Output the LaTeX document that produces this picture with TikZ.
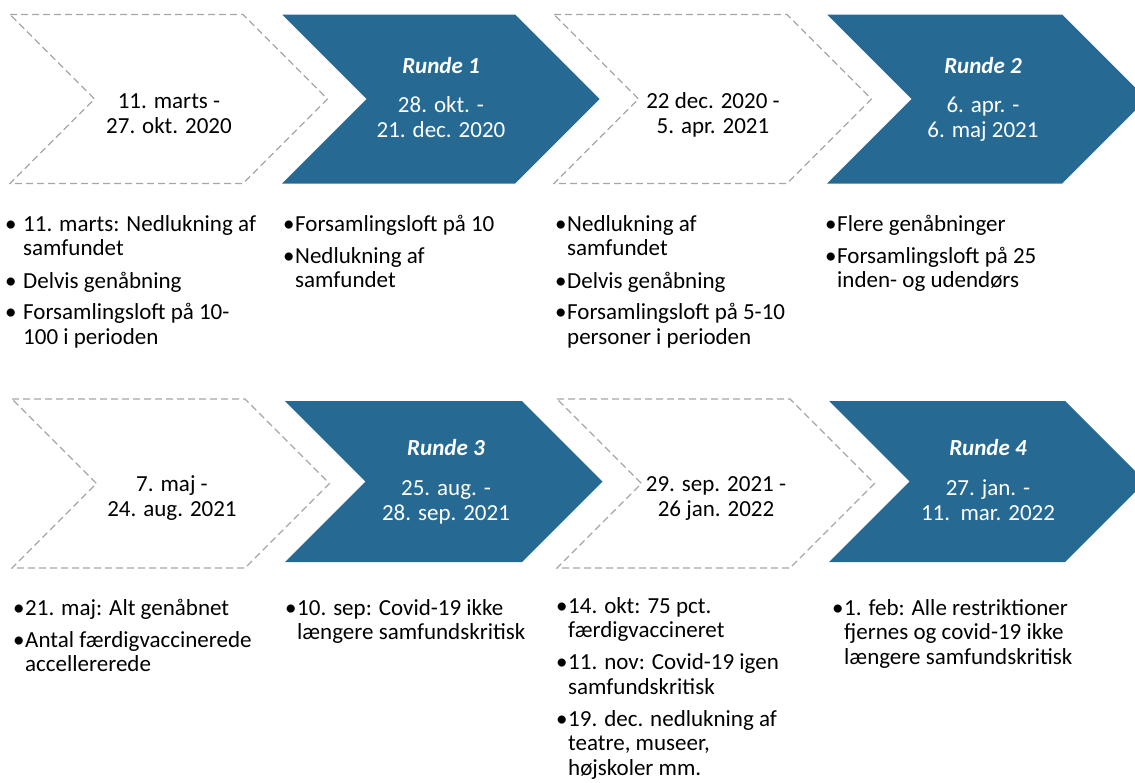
\documentclass[tikz,border=0pt]{standalone}
\usepackage{fontspec}
\setmainfont{Carlito}
\usepackage{tikz}

\definecolor{rundeblaa}{HTML}{266A94}
\definecolor{stregGraa}{HTML}{A6A6A6}

\begin{document}
\begin{tikzpicture}[x=1pt, y=-1pt,
    pause/.style={draw=stregGraa, line width=1.1pt, dash pattern=on 7pt off 4pt},
    runde/.style={fill=rundeblaa, draw=none},
    periode/.style={font=\fontsize{23}{25}\selectfont, align=center, inner sep=0pt, anchor=base},
    rundetekst/.style={periode, text=white},
    punkter/.style={font=\fontsize{23}{24.5}\selectfont, inner sep=0pt, anchor=base west}]

    \useasboundingbox (0,0) rectangle (1135,782);

    % Raekke 1: pilene
    \draw[pause] (10,14.5) -- (243,14.5) -- (327.5,99) -- (243,183.5) -- (10,183.5) -- (94.5,99) -- cycle;
    \fill[runde] (282,14.5) -- (515,14.5) -- (599.5,99) -- (515,183.5) -- (282,183.5) -- (366.5,99) -- cycle;
    \draw[pause] (554,14.5) -- (787,14.5) -- (871.5,99) -- (787,183.5) -- (554,183.5) -- (638.5,99) -- cycle;
    \fill[runde] (827,14.5) -- (1062,14.5) -- (1146.5,99) -- (1062,183.5) -- (827,183.5) -- (911.5,99) -- cycle;

    % Raekke 2: pilene
    \draw[pause] (12,399) -- (245,399) -- (329.5,483.5) -- (245,568) -- (12,568) -- (96.5,483.5) -- cycle;
    \fill[runde] (285,401) -- (522,401) -- (602.5,481.5) -- (522,562) -- (285,562) -- (365.5,481.5) -- cycle;
    \draw[pause] (557,399) -- (790,399) -- (874.5,483.5) -- (790,568) -- (557,568) -- (641.5,483.5) -- cycle;
    \fill[runde] (829,401) -- (1065,401) -- (1145.5,481.5) -- (1065,562) -- (829,562) -- (909.5,481.5) -- cycle;

    % Perioder uden runde
    \node (periode1) [periode] at (169,133.5) {11. marts -\\27. okt. 2020};
    \node (periode2) [periode] at (713,133.5) {22 dec. 2020 -\\5. apr. 2021};
    \node (periode3) [periode] at (172,516.5) {7. maj -\\24. aug. 2021};
    \node (periode4) [periode] at (716,516.5) {29. sep. 2021 -\\26 jan. 2022};

    % Runderne
    \node (runde1) [rundetekst] at (441,73.5) {\textbf{\textit{Runde 1}}};
    \node (dato1) [rundetekst] at (441,137) {28. okt. -\\21. dec. 2020};
    \node (runde2) [rundetekst] at (983,73.5) {\textbf{\textit{Runde 2}}};
    \node (dato2) [rundetekst] at (983,137) {6. apr. -\\6. maj 2021};
    \node (runde3) [rundetekst] at (446,455.5) {\textbf{\textit{Runde 3}}};
    \node (dato3) [rundetekst] at (446,520.5) {25. aug. -\\28. sep. 2021};
    \node (runde4) [rundetekst] at (988,455.5) {\textbf{\textit{Runde 4}}};
    \node (dato4) [rundetekst] at (988,520.5) {27. jan. -\\11.\ \ mar. 2022};

    % Punkter under raekke 1
    \node (liste1) [punkter] at (5,231) {\begin{tabular}[t]{@{}p{18pt}@{}l@{}}
        \textbullet & 11. marts: Nedlukning af\\
                    & samfundet\\[8pt]
        \textbullet & Delvis genåbning\\[7pt]
        \textbullet & Forsamlingsloft på 10-\\
                    & 100 i perioden
    \end{tabular}};
    \node (liste2) [punkter] at (283,231) {\begin{tabular}[t]{@{}p{12pt}@{}l@{}}
        \textbullet & Forsamlingsloft på 10\\[7.5pt]
        \textbullet & Nedlukning af\\
                    & samfundet
    \end{tabular}};
    \node (liste3) [punkter] at (555,231) {\begin{tabular}[t]{@{}p{12pt}@{}l@{}}
        \textbullet & Nedlukning af\\
                    & samfundet\\[8pt]
        \textbullet & Delvis genåbning\\[7pt]
        \textbullet & Forsamlingsloft på 5-10\\
                    & personer i perioden
    \end{tabular}};
    \node (liste4) [punkter] at (825,231) {\begin{tabular}[t]{@{}p{12pt}@{}l@{}}
        \textbullet & Flere genåbninger\\[7.5pt]
        \textbullet & Forsamlingsloft på 25\\
                    & inden- og udendørs
    \end{tabular}};

    % Punkter under raekke 2
    \node (liste5) [punkter] at (13,615) {\begin{tabular}[t]{@{}p{12pt}@{}l@{}}
        \textbullet & 21. maj: Alt genåbnet\\[7.5pt]
        \textbullet & Antal færdigvaccinerede\\
                    & accellererede
    \end{tabular}};
    \node (liste6) [punkter] at (285,615) {\begin{tabular}[t]{@{}p{12pt}@{}l@{}}
        \textbullet & 10. sep: Covid-19 ikke\\
                    & længere samfundskritisk
    \end{tabular}};
    \node (liste7) [punkter] at (556,613) {\begin{tabular}[t]{@{}p{12pt}@{}l@{}}
        \textbullet & 14. okt: 75 pct.\\
                    & færdigvaccineret\\[7.5pt]
        \textbullet & 11. nov: Covid-19 igen\\
                    & samfundskritisk\\[7.5pt]
        \textbullet & 19. dec. nedlukning af\\
                    & teatre, museer,\\
                    & højskoler mm.
    \end{tabular}};
    \node (liste8) [punkter] at (832,615) {\begin{tabular}[t]{@{}p{12pt}@{}l@{}}
        \textbullet & 1. feb: Alle restriktioner\\
                    & fjernes og covid-19 ikke\\
                    & længere samfundskritisk
    \end{tabular}};
\end{tikzpicture}
\end{document}
